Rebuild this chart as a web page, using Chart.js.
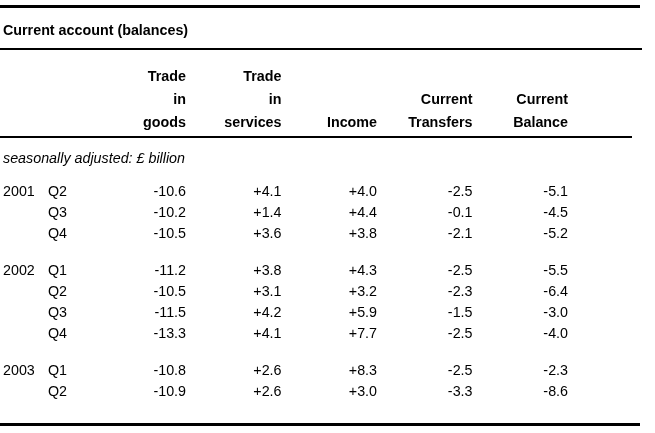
<!DOCTYPE html>
<html>
<head>
<meta charset="utf-8">
<title>Current account (balances)</title>
<script src="https://cdn.jsdelivr.net/npm/chart.js@4.4.1/dist/chart.umd.min.js"></script>
<style>
  html, body { margin: 0; padding: 0; background: #fff; }
  #wrap { width: 655px; height: 433px; }
</style>
</head>
<body>
<div id="wrap"><canvas id="table" width="655" height="433"></canvas></div>
<script>
const TITLE = 'Current account (balances)';
const SUBTITLE = 'seasonally adjusted: £ billion';

const COLUMNS = ['goods', 'services', 'income', 'transfers', 'balance'];
const HEADERS = [
  ['Trade', 'in', 'goods'],
  ['Trade', 'in', 'services'],
  ['Income'],
  ['Current', 'Transfers'],
  ['Current', 'Balance'],
];

const YEARS = ['2001', '', '', '2002', '', '', '', '2003', ''];
const QUARTERS = ['Q2', 'Q3', 'Q4', 'Q1', 'Q2', 'Q3', 'Q4', 'Q1', 'Q2'];

const GOODS = [-10.6, -10.2, -10.5, -11.2, -10.5, -11.5, -13.3, -10.8, -10.9];
const SERVICES = [4.1, 1.4, 3.6, 3.8, 3.1, 4.2, 4.1, 2.6, 2.6];
const INCOME = [4.0, 4.4, 3.8, 4.3, 3.2, 5.9, 7.7, 8.3, 3.0];
const TRANSFERS = [-2.5, -0.1, -2.1, -2.5, -2.3, -1.5, -2.5, -2.5, -3.3];
const BALANCE = [-5.1, -4.5, -5.2, -5.5, -6.4, -3.0, -4.0, -2.3, -8.6];

const SERIES = [GOODS, SERVICES, INCOME, TRANSFERS, BALANCE];

const FONT = '"Liberation Sans", Arial, Helvetica, sans-serif';
const SIZE = '14.3px ';

// row slots: 4 units per row, 3 extra units of space where a new year starts
const ROW_STEP = 4;
const YEAR_GAP = 3;
const ROW_POS = [];
let slot = 0;
YEARS.forEach((year, i) => {
  if (i > 0) slot += ROW_STEP + (year ? YEAR_GAP : 0);
  ROW_POS.push(slot);
});

function fmt(v) {
  return v > 0 ? '+' + v.toFixed(1) : v.toFixed(1);
}

function rule(ctx, y, x1, x2, w) {
  ctx.fillStyle = '#000';
  ctx.fillRect(x1, y, x2 - x1, w);
}

const tablePlugin = {
  id: 'tableText',
  afterDatasetsDraw(chart) {
    const ctx = chart.ctx;
    const xs = chart.scales.x;
    const ys = chart.scales.y;
    ctx.save();

    // rules
    rule(ctx, 5, 0, 640, 3);
    rule(ctx, 48, 0, 642, 2);
    rule(ctx, 136, 0, 632, 2);
    rule(ctx, 423, 0, 640, 3);

    ctx.fillStyle = '#000';
    ctx.textBaseline = 'middle';

    // title
    ctx.font = 'bold ' + SIZE + FONT;
    ctx.textAlign = 'left';
    ctx.fillText(TITLE, 3, 31);

    // column headers, bottom aligned
    ctx.textAlign = 'right';
    HEADERS.forEach((lines, ci) => {
      const x = xs.getPixelForValue(ci);
      lines.forEach((t, li) => {
        const y = 123 - (lines.length - 1 - li) * 23;
        ctx.fillText(t, x, y);
      });
    });

    // subtitle
    ctx.font = 'italic ' + SIZE + FONT;
    ctx.textAlign = 'left';
    ctx.fillText(SUBTITLE, 3, 159);

    // row labels
    ctx.font = SIZE + FONT;
    ROW_POS.forEach((pos, ri) => {
      const y = ys.getPixelForValue(pos);
      if (YEARS[ri]) ctx.fillText(YEARS[ri], 3, y);
      ctx.fillText(QUARTERS[ri], 48, y);
    });

    // cells
    ctx.textAlign = 'right';
    chart.data.datasets.forEach((ds, di) => {
      const meta = chart.getDatasetMeta(di);
      meta.data.forEach((pt, i) => {
        ctx.fillText(fmt(ds.data[i].v), pt.x, pt.y);
      });
    });

    ctx.restore();
  },
};

new Chart(document.getElementById('table'), {
  type: 'scatter',
  data: {
    datasets: COLUMNS.map((col, ci) => ({
      label: col,
      data: SERIES[ci].map((v, ri) => ({ x: col, y: ROW_POS[ri], v: v })),
      pointRadius: 0,
      pointHoverRadius: 0,
    })),
  },
  options: {
    responsive: false,
    animation: false,
    events: [],
    layout: { padding: { left: 186, right: 87, top: 192, bottom: 41 } },
    scales: {
      x: { type: 'category', labels: COLUMNS, display: false, offset: false },
      y: {
        type: 'linear',
        min: 0,
        max: ROW_POS[ROW_POS.length - 1],
        reverse: true,
        display: false,
      },
    },
    plugins: {
      legend: { display: false },
      tooltip: { enabled: false },
    },
  },
  plugins: [tablePlugin],
});
</script>
</body>
</html>
